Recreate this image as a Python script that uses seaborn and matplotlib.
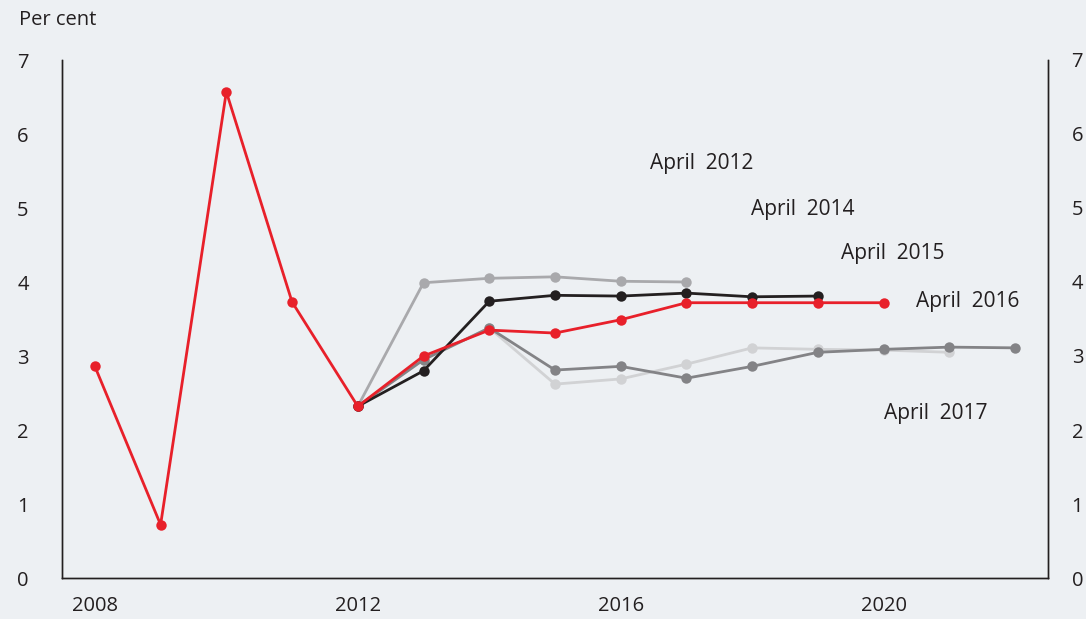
import pandas as pd
import matplotlib
matplotlib.use('Agg')
import matplotlib.pyplot as plt
import seaborn as sns

# history shared by every vintage
hist_years = [2008, 2009, 2010, 2011, 2012]
hist_vals = [2.86, 0.72, 6.57, 3.73, 2.32]

# forecasts by vintage (start from 2012 actual)
apr2012_years = [2012, 2013, 2014, 2015, 2016, 2017]
apr2012_vals = [2.32, 3.99, 4.05, 4.07, 4.01, 4.00]

apr2014_years = [2012, 2013, 2014, 2015, 2016, 2017, 2018, 2019]
apr2014_vals = [2.32, 2.80, 3.74, 3.82, 3.81, 3.85, 3.80, 3.81]

apr2015_years = [2012, 2013, 2014, 2015, 2016, 2017, 2018, 2019, 2020, 2021]
apr2015_vals = [2.32, 2.95, 3.38, 2.62, 2.69, 2.89, 3.11, 3.09, 3.08, 3.05]

apr2016_years = hist_years + [2013, 2014, 2015, 2016, 2017, 2018, 2019, 2020]
apr2016_vals = hist_vals + [3.00, 3.35, 3.31, 3.49, 3.72, 3.72, 3.72, 3.72]

apr2017_years = [2012, 2013, 2014, 2015, 2016, 2017, 2018, 2019, 2020, 2021, 2022]
apr2017_vals = [2.32, 2.95, 3.38, 2.81, 2.86, 2.70, 2.86, 3.05, 3.09, 3.12, 3.11]

series = [
    ('April  2012', apr2012_years, apr2012_vals, '#a9a9ac', (702, 164)),
    ('April  2015', apr2015_years, apr2015_vals, '#d1d2d4', (893, 254)),
    ('April  2017', apr2017_years, apr2017_vals, '#838386', (936, 414)),
    ('April  2014', apr2014_years, apr2014_vals, '#231f20', (803, 210)),
    ('April  2016', apr2016_years, apr2016_vals, '#e8202a', (968, 302)),
]

bg = '#edf0f3'
plt.rcParams['font.family'] = ['Open Sans', 'DejaVu Sans']

fig = plt.figure(figsize=(10.86, 6.19), dpi=100, facecolor=bg)
ax = fig.add_axes([62 / 1086, 41 / 619, (1048 - 62) / 1086, (578 - 60) / 619])
ax.set_facecolor(bg)

for name, yrs, vals, col, pos in series:
    df = pd.DataFrame({'year': yrs, 'value': vals})
    sns.lineplot(data=df, x='year', y='value', ax=ax, color=col, linewidth=2.0,
                 marker='o', markersize=7.5, markeredgewidth=0)
    fig.text(pos[0] / 1086, 1 - pos[1] / 619, name, ha='center', va='center',
             color='#231f20', fontsize=15)

ax.set_xlim(2007.5, 2022.5)
ax.set_ylim(0, 7)
ax.set_xticks([2008, 2012, 2016, 2020])
ax.set_yticks(range(8))
ax.set_xlabel('')
ax.set_ylabel('')
ax.tick_params(length=0, colors='#231f20', labelsize=14.5)
ax.tick_params(axis='y', pad=24)
ax.tick_params(axis='x', pad=13)

ax2 = ax.twinx()
ax2.set_ylim(0, 7)
ax2.set_yticks(range(8))
ax2.tick_params(length=0, colors='#231f20', labelsize=14.5, pad=17)

for a in (ax, ax2):
    a.spines['top'].set_visible(False)
    for s in ('left', 'right', 'bottom'):
        a.spines[s].set_color('#231f20')
        a.spines[s].set_linewidth(1.0)

fig.text(19 / 1086, 1 - 20 / 619, 'Per cent', ha='left', va='center',
         color='#231f20', fontsize=14.5)

fig.savefig('out.png', dpi=100, facecolor=bg)
